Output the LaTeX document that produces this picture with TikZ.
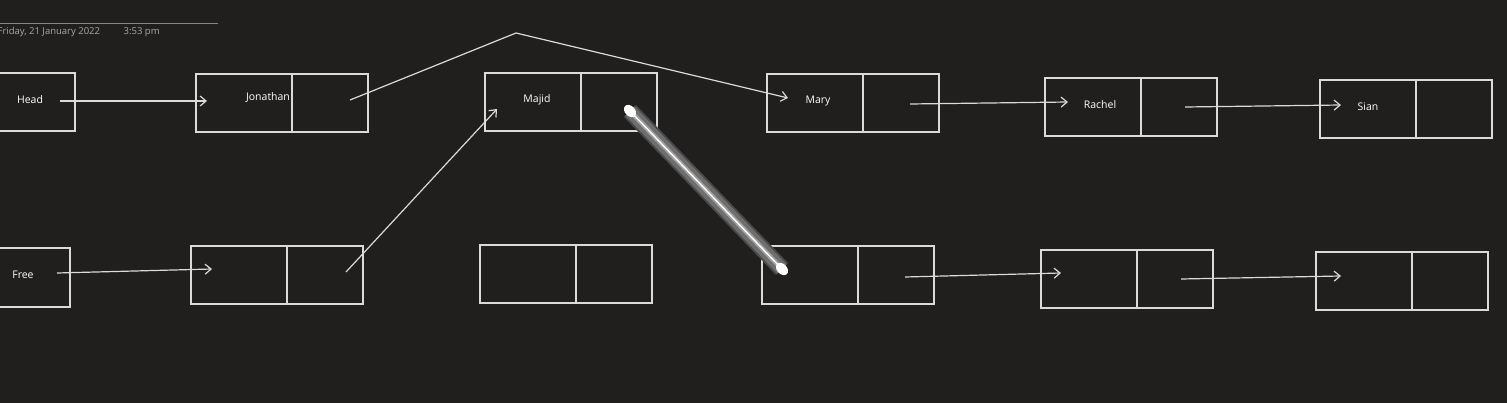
\documentclass[tikz,border=0pt]{standalone}
\usepackage{fontspec}
\setmainfont{Open Sans}
\usetikzlibrary{arrows.meta}
\definecolor{bgc}{HTML}{201F1E}
\definecolor{inkc}{HTML}{DADADA}
\definecolor{datec}{HTML}{A8A8A8}
\definecolor{tubec}{HTML}{6E6E6E}
\definecolor{tubeedge}{HTML}{4A4A4A}

\begin{document}
\begin{tikzpicture}[x=1pt, y=-1pt, line width=1.3pt,
  datacell/.style={draw=inkc, minimum width=96pt, minimum height=58pt, inner sep=0pt, outer sep=0pt, anchor=north west},
  ptrcell/.style={draw=inkc, minimum width=76pt, minimum height=58pt, inner sep=0pt, outer sep=0pt, anchor=west},
  lbl/.style={text=white, font=\fontsize{10.5}{12}\selectfont, inner sep=0pt},
  ptr/.style={draw=inkc, line width=1.2pt, -{Straight Barb[length=6pt, width=10pt, line width=1.2pt]}}]
  \fill[bgc] (0,0) rectangle (1507,403);
  \useasboundingbox (0,0) rectangle (1507,403);
  % date line
  \draw[datec!80!black, line width=0.8pt] (0,23) -- (218,23);
  \node[text=datec, font=\fontsize{9.5}{11}\selectfont, anchor=base west, inner sep=0pt] (date) at (-3,35) {Friday, 21 January 2022};
  \node[text=datec, font=\fontsize{9.5}{11}\selectfont, anchor=base west, inner sep=0pt] (time) at (123,35) {3:53 pm};
  % start boxes
  \node[draw=inkc, minimum width=96pt, minimum height=58pt, inner sep=0pt, outer sep=0pt, anchor=north east] (head) at (75,73) {};
  \node[draw=inkc, minimum width=96pt, minimum height=59pt, inner sep=0pt, outer sep=0pt, anchor=north east] (free) at (70,248) {};
  % node pairs
  \foreach \nm/\bx/\by in {jon/196/74, majid/485/73, mary/767/74, rachel/1045/78, sian/1320/80,
                          fa/191/246, fb/480/245, fc/762/246, fd/1041/250, fe/1316/252} {
    \node[datacell] (\nm-d) at (\bx,\by) {};
    \node[ptrcell] (\nm-p) at (\nm-d.east) {};
  }
  % labels
  \node[lbl] (head-t) at (30,100) {Head};
  \node[lbl] (free-t) at (23,275) {Free};
  \node[lbl] (jon-t) at (268,98) {Jonathan};
  \node[lbl] (majid-t) at (537,100) {Majid};
  \node[lbl] (mary-t) at (818,101) {Mary};
  \node[lbl] (rachel-t) at (1100,105) {Rachel};
  \node[lbl] (sian-t) at (1368,107) {Sian};
  % arrow ends
  \coordinate (head-o) at (60,101);   \coordinate (jon-i) at (207,101);
  \coordinate (jon-o) at (350,100);   \coordinate (top) at (516,33);
  \coordinate (mary-i) at (788,98);   \coordinate (mary-o) at (910,104);
  \coordinate (rachel-i) at (1068,102); \coordinate (rachel-o) at (1185,107);
  \coordinate (sian-i) at (1341,105);
  \coordinate (free-o) at (57,273);   \coordinate (fa-i) at (212,269);
  \coordinate (fa-o) at (346,272);    \coordinate (majid-i) at (497,109);
  \coordinate (fc-o) at (905,277);    \coordinate (fd-i) at (1061,273);
  \coordinate (fd-o) at (1181,279);   \coordinate (fe-i) at (1341,276);
  \coordinate (tube-a) at (630,111);  \coordinate (tube-b) at (782,269);
  % arrows
  \draw[ptr] (head-o) -- (jon-i);
  \draw[ptr] (jon-o) -- (top) -- (mary-i);
  \draw[ptr] (mary-o) -- (rachel-i);
  \draw[ptr] (rachel-o) -- (sian-i);
  \draw[ptr] (free-o) -- (fa-i);
  \draw[ptr] (fa-o) -- (majid-i);
  \draw[ptr] (fc-o) -- (fd-i);
  \draw[ptr] (fd-o) -- (fe-i);
  % the pen stroke
  \draw[tubeedge, line width=17pt] (tube-a) -- (tube-b);
  \draw[tubec, line width=13pt] (tube-a) -- (tube-b);
  \draw[gray!75, line width=5pt] (tube-a) -- (tube-b);
  \draw[white, line width=1.4pt] (tube-a) -- (tube-b);
  \fill[white, rotate around={-46:(tube-a)}] (tube-a) ellipse (7pt and 5pt);
  \fill[white, rotate around={-46:(tube-b)}] (tube-b) ellipse (7pt and 5pt);
\end{tikzpicture}
\end{document}
